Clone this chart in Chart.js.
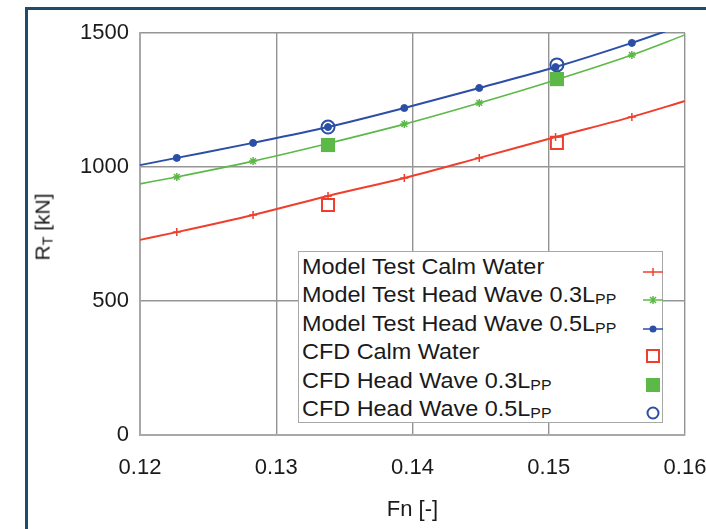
<!DOCTYPE html>
<html>
<head>
<meta charset="utf-8">
<script src="https://cdn.jsdelivr.net/npm/chart.js@4.4.1/dist/chart.umd.min.js"></script>
<style>
  html, body { margin: 0; padding: 0; background: #fff; overflow: hidden; }
  body { width: 706px; height: 529px; position: relative; font-family: "Liberation Sans", Arial, sans-serif; color: #1a1a1a; }
  #frame { position: absolute; left: 25px; top: 7px; width: 760px; height: 600px; border-left: 3px solid #1d4d6c; border-top: 3px solid #1d4d6c; }
  #wrap { position: absolute; left: 0; top: 0; width: 740px; height: 529px; }
  #ytitle { position: absolute; left: 43px; top: 227px; transform: translate(-50%, -50%) rotate(-90deg); font-size: 21px; white-space: nowrap; }
  #legend { position: absolute; left: 298px; top: 251px; width: 365px; height: 172px; background: #fff; border: 1.5px solid #a8a8a8; box-sizing: border-box; font-size: 22px; }
  .row { position: absolute; left: 3px; height: 28px; line-height: 28px; white-space: nowrap; transform: scaleX(1.065); transform-origin: left center; }
  .row sub { font-size: 0.68em; vertical-align: -0.15em; line-height: 0; }
  .mk { position: absolute; left: 343px; }
</style>
</head>
<body>
<div id="frame"></div>
<div id="wrap"><canvas id="chart"></canvas></div>
<div id="ytitle">R<sub style="font-size:0.68em;vertical-align:-0.2em;">T</sub> [kN]</div>
<div id="legend"></div>
<script>
// Froude number of the model test points
const fnModel = [0.1227, 0.1283, 0.1338, 0.1394, 0.1449, 0.1505, 0.1561];
// fitted curves are drawn from axis edge to axis edge
const fnEnds = [0.12, 0.16];

const calmModel = [757, 821, 892, 959, 1034, 1112, 1187];
const calmEnds = [728, 1246];
const wave03Model = [963, 1022, 1088, 1160, 1239, 1325, 1418];
const wave03Ends = [937, 1493];
const wave05Model = [1034, 1090, 1149, 1220, 1295, 1373, 1463];
const wave05Ends = [1007, 1532];

// CFD results
const fnCFD = [0.1338, 0.1506];
const calmCFD = [858, 1090];
const wave03CFD = [1082, 1328];
const wave05CFD = [1149, 1381];

const xTicks = [0.12, 0.13, 0.14, 0.15, 0.16];
const yTicks = [0, 500, 1000, 1500];

const legendLabels = [
  'Model Test Calm Water',
  'Model Test Head Wave 0.3L<sub>PP</sub>',
  'Model Test Head Wave 0.5L<sub>PP</sub>',
  'CFD Calm Water',
  'CFD Head Wave 0.3L<sub>PP</sub>',
  'CFD Head Wave 0.5L<sub>PP</sub>',
];

const RED = '#ef3f2c';
const GREEN = '#5cb947';
const BLUE = '#2b4fa6';
const TXT = '#1a1a1a';

function curve(vals, ends) {
  const pts = [{ x: fnEnds[0], y: ends[0] }];
  fnModel.forEach((f, i) => pts.push({ x: f, y: vals[i] }));
  pts.push({ x: fnEnds[1], y: ends[1] });
  return pts;
}

function pts(xs, ys) {
  return xs.map((x, i) => ({ x: x, y: ys[i] }));
}

// point radius 0 on the extrapolated ends
const radii = [0].concat(fnModel.map(() => 4)).concat([0]);

const ctx = document.getElementById('chart');

new Chart(ctx, {
  type: 'scatter',
  data: {
    datasets: [
      {
        label: 'Model Test Calm Water',
        data: curve(calmModel, calmEnds),
        showLine: true,
        borderColor: RED,
        backgroundColor: RED,
        borderWidth: 2,
        pointStyle: 'cross',
        pointRadius: radii,
        pointBorderWidth: 1.5,
        cubicInterpolationMode: 'monotone',
        clip: 1,
      },
      {
        label: 'Model Test Head Wave 0.3Lpp',
        data: curve(wave03Model, wave03Ends),
        showLine: true,
        borderColor: GREEN,
        backgroundColor: GREEN,
        borderWidth: 1.6,
        pointStyle: 'star',
        pointRadius: radii,
        pointBorderWidth: 1.5,
        cubicInterpolationMode: 'monotone',
        clip: 1,
      },
      {
        label: 'Model Test Head Wave 0.5Lpp',
        data: curve(wave05Model, wave05Ends),
        showLine: true,
        borderColor: BLUE,
        backgroundColor: BLUE,
        borderWidth: 2,
        pointStyle: 'circle',
        pointRadius: radii.map((r) => (r ? 3.5 : 0)),
        pointBorderWidth: 1,
        cubicInterpolationMode: 'monotone',
        clip: 1,
      },
      {
        label: 'CFD Calm Water',
        data: pts(fnCFD, calmCFD),
        borderColor: RED,
        backgroundColor: 'rgba(0,0,0,0)',
        pointStyle: 'rect',
        pointRadius: 8.5,
        pointBorderWidth: 2,
      },
      {
        label: 'CFD Head Wave 0.3Lpp',
        data: pts(fnCFD, wave03CFD),
        borderColor: GREEN,
        backgroundColor: GREEN,
        pointStyle: 'rect',
        pointRadius: 10,
        pointBorderWidth: 0,
      },
      {
        label: 'CFD Head Wave 0.5Lpp',
        data: pts(fnCFD, wave05CFD),
        borderColor: BLUE,
        backgroundColor: 'rgba(0,0,0,0)',
        pointStyle: 'circle',
        pointRadius: 6.5,
        pointBorderWidth: 2,
      },
    ],
  },
  options: {
    responsive: true,
    maintainAspectRatio: false,
    animation: false,
    layout: { padding: { left: 0, top: 33, right: 55, bottom: 0 } },
    plugins: {
      legend: { display: false },
      tooltip: { enabled: false },
    },
    scales: {
      x: {
        type: 'linear',
        min: 0.12,
        max: 0.16,
        afterBuildTicks: (scale) => { scale.ticks = xTicks.map((v) => ({ value: v })); },
        afterFit: (scale) => { scale.height = 94; },
        ticks: {
          callback: (v) => v.toFixed(2),
          color: TXT,
          padding: 20,
          maxRotation: 0,
          font: { family: 'Liberation Sans', size: 22 },
        },
        grid: { color: '#959595', lineWidth: 1.4, drawTicks: false },
        border: { color: '#a8a8a8', width: 2 },
        title: {
          display: true,
          text: 'Fn [-]',
          color: TXT,
          padding: { top: 0, bottom: 6 },
          font: { family: 'Liberation Sans', size: 22 },
        },
      },
      y: {
        min: 0,
        max: 1500,
        afterBuildTicks: (scale) => { scale.ticks = yTicks.map((v) => ({ value: v })); },
        afterFit: (scale) => { scale.width = 140; },
        ticks: {
          callback: (v) => String(v),
          color: TXT,
          padding: 11,
          font: { family: 'Liberation Sans', size: 22 },
        },
        grid: { color: '#959595', lineWidth: 1.4, drawTicks: false },
        border: { color: '#a8a8a8', width: 2 },
      },
    },
  },
});

// legend with subscripts as html text
const markers = [
  '<svg width="22" height="14"><line x1="1" y1="7" x2="21" y2="7" stroke="' + RED + '" stroke-width="1.5"/><line x1="11" y1="3" x2="11" y2="11" stroke="' + RED + '" stroke-width="1.5"/></svg>',
  '<svg width="22" height="14"><line x1="1" y1="7" x2="21" y2="7" stroke="' + GREEN + '" stroke-width="1.5"/><path d="M8 4 L14 10 M14 4 L8 10 M11 3 L11 11" stroke="' + GREEN + '" stroke-width="1.5"/></svg>',
  '<svg width="22" height="14"><line x1="1" y1="7" x2="21" y2="7" stroke="' + BLUE + '" stroke-width="1.5"/><circle cx="11" cy="7" r="3.5" fill="' + BLUE + '"/></svg>',
  '<svg width="22" height="16"><rect x="5" y="2" width="12" height="12" fill="none" stroke="' + RED + '" stroke-width="2"/></svg>',
  '<svg width="22" height="16"><rect x="4" y="1" width="14" height="14" fill="' + GREEN + '"/></svg>',
  '<svg width="22" height="16"><circle cx="11" cy="8" r="5.5" fill="none" stroke="' + BLUE + '" stroke-width="2"/></svg>',
];
const legend = document.getElementById('legend');
legendLabels.forEach((txt, i) => {
  const top = 1 + i * 28.4;
  legend.insertAdjacentHTML('beforeend',
    '<div class="row" style="top:' + top + 'px">' + txt + '</div>' +
    '<div class="mk" style="top:' + (top + 6) + 'px">' + markers[i] + '</div>');
});
</script>
</body>
</html>
